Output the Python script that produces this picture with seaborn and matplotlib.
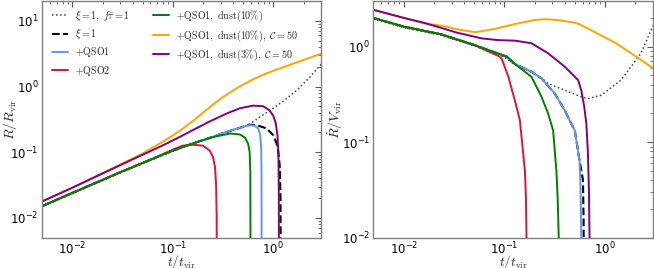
import matplotlib
matplotlib.use("Agg")
import matplotlib.pyplot as plt
import seaborn as sns

# ---- left panel: R / R_vir ----
t_dot = [0.005, 0.01, 0.0316, 0.063, 0.1, 0.158, 0.251, 0.398, 0.585, 0.794, 1.0, 1.26, 1.70, 2.24, 3.0]
r_dot = [0.0148, 0.0234, 0.050, 0.0776, 0.1035, 0.135, 0.174, 0.219, 0.269, 0.372, 0.468, 0.603, 0.871, 1.32, 2.2]

t_dash = [0.005, 0.01, 0.0316, 0.063, 0.1, 0.158, 0.251, 0.398, 0.585, 0.68, 0.855, 1.0, 1.077, 1.117, 1.161, 1.180, 1.186]
r_dash = [0.0151, 0.024, 0.0513, 0.0794, 0.106, 0.136, 0.172, 0.219, 0.262, 0.259, 0.231, 0.182, 0.137, 0.108, 0.060, 0.02, 0.001]

t_qso1 = [0.005, 0.01, 0.0316, 0.063, 0.1, 0.158, 0.251, 0.316, 0.447, 0.585, 0.661, 0.708, 0.741, 0.759, 0.764, 0.766]
r_qso1 = [0.0151, 0.024, 0.0513, 0.0794, 0.106, 0.136, 0.172, 0.197, 0.232, 0.259, 0.251, 0.229, 0.182, 0.112, 0.040, 0.001]

t_qso2 = [0.005, 0.01, 0.0316, 0.063, 0.1, 0.126, 0.158, 0.20, 0.234, 0.251, 0.263, 0.270, 0.2735, 0.274]
r_qso2 = [0.0151, 0.024, 0.0513, 0.0794, 0.1096, 0.126, 0.130, 0.126, 0.105, 0.085, 0.060, 0.0316, 0.01, 0.001]

t_d10 = [0.005, 0.01, 0.0316, 0.063, 0.1, 0.158, 0.251, 0.372, 0.468, 0.525, 0.562, 0.582, 0.591, 0.594]
r_d10 = [0.0151, 0.024, 0.0513, 0.0794, 0.106, 0.136, 0.170, 0.193, 0.186, 0.166, 0.135, 0.10, 0.05, 0.001]

t_d10c = [0.005, 0.01, 0.0316, 0.050, 0.0631, 0.0794, 0.1, 0.1259, 0.1585, 0.1995, 0.2512, 0.3162,
          0.3981, 0.5012, 0.631, 0.794, 1.0, 1.585, 3.0]
r_d10c = [0.0178, 0.0288, 0.0676, 0.0955, 0.1175, 0.1445, 0.180, 0.229, 0.2985, 0.398, 0.531, 0.692,
          0.871, 1.072, 1.288, 1.514, 1.738, 2.239, 3.16]

t_d3c = [0.005, 0.01, 0.0316, 0.0748, 0.1096, 0.160, 0.234, 0.344, 0.468, 0.631, 0.794, 0.912, 1.0, 1.059, 1.102, 1.125, 1.135, 1.138]
r_d3c = [0.0178, 0.0288, 0.066, 0.1216, 0.162, 0.219, 0.295, 0.389, 0.468, 0.513, 0.501, 0.437, 0.36, 0.275, 0.178, 0.089, 0.025, 0.001]

# ---- right panel: Rdot / V_vir ----
tv_dot = [0.005, 0.01, 0.0233, 0.05, 0.1, 0.127, 0.186, 0.234, 0.272, 0.398, 0.581, 0.676, 0.916, 1.445, 2.275, 3.0]
v_dot = [1.95, 1.585, 1.318, 1.023, 0.776, 0.646, 0.543, 0.468, 0.411, 0.350, 0.298, 0.286, 0.310, 0.447, 0.851, 1.66]

tv_dash = [0.005, 0.01, 0.0233, 0.05, 0.106, 0.127, 0.186, 0.234, 0.316, 0.398, 0.462, 0.501, 0.558, 0.604, 0.613, 0.615]
v_dash = [1.995, 1.62, 1.349, 1.042, 0.785, 0.66, 0.546, 0.465, 0.324, 0.216, 0.156, 0.133, 0.0646, 0.040, 0.015, 0.001]

tv_qso1 = [0.005, 0.01, 0.0233, 0.05, 0.106, 0.127, 0.186, 0.234, 0.316, 0.398, 0.462, 0.501, 0.558, 0.571, 0.581, 0.582]
v_qso1 = [1.995, 1.62, 1.349, 1.042, 0.785, 0.66, 0.546, 0.465, 0.324, 0.216, 0.156, 0.133, 0.0646, 0.0339, 0.01, 0.001]

tv_qso2 = [0.005, 0.01, 0.0233, 0.05, 0.0871, 0.094, 0.1096, 0.127, 0.1426, 0.160, 0.164, 0.166, 0.1663]
v_qso2 = [1.995, 1.62, 1.349, 1.042, 0.80, 0.75, 0.483, 0.275, 0.170, 0.050, 0.025, 0.01, 0.001]

tv_d10 = [0.005, 0.01, 0.0233, 0.05, 0.106, 0.127, 0.186, 0.234, 0.272, 0.305, 0.329, 0.339, 0.347, 0.3475]
v_d10 = [1.995, 1.62, 1.349, 1.042, 0.785, 0.66, 0.483, 0.298, 0.20, 0.133, 0.050, 0.025, 0.01, 0.001]

tv_d10c = [0.005, 0.01, 0.0158, 0.0251, 0.0339, 0.0513, 0.0794, 0.126, 0.2, 0.251, 0.342, 0.501, 0.562, 1.24, 1.95, 3.0]
v_d10c = [2.43, 2.0, 1.76, 1.64, 1.52, 1.416, 1.53, 1.72, 1.90, 1.94, 1.90, 1.78, 1.71, 1.11, 0.813, 0.593]

tv_d3c = [0.005, 0.01, 0.0158, 0.0251, 0.0339, 0.0597, 0.0871, 0.127, 0.186, 0.272, 0.398, 0.540, 0.581, 0.620, 0.652, 0.676, 0.692, 0.702, 0.703]
v_d3c = [2.43, 2.0, 1.78, 1.54, 1.40, 1.22, 1.17, 1.156, 1.086, 0.851, 0.617, 0.447, 0.350, 0.24, 0.158, 0.079, 0.0316, 0.01, 0.001]

labels = [r'$\xi = 1,\ f\bar{\tau} = 1$', r'$\xi = 1$', r'$+\mathrm{QSO1}$', r'$+\mathrm{QSO2}$',
          r'$+\mathrm{QSO1,\ dust(10\%)}$', r'$+\mathrm{QSO1,\ dust(10\%)},\ \mathcal{C} = 50$',
          r'$+\mathrm{QSO1,\ dust(3\%)},\ \mathcal{C} = 50$']
colors = ['0.25', 'k', 'cornflowerblue', 'crimson', 'green', 'orange', 'purple']
styles = [':', '--', '-', '-', '-', '-', '-']
widths = [1.1, 1.5, 1.4, 1.4, 1.4, 1.4, 1.4]

left = [(t_dot, r_dot), (t_dash, r_dash), (t_qso1, r_qso1), (t_qso2, r_qso2),
        (t_d10, r_d10), (t_d10c, r_d10c), (t_d3c, r_d3c)]
right = [(tv_dot, v_dot), (tv_dash, v_dash), (tv_qso1, v_qso1), (tv_qso2, v_qso2),
         (tv_d10, v_d10), (tv_d10c, v_d10c), (tv_d3c, v_d3c)]

sns.set_style("white")
plt.rcParams['mathtext.fontset'] = 'cm'

fig = plt.figure(figsize=(6.54, 2.68), dpi=100)
ax1 = fig.add_axes([0.0642, 0.113, 0.427, 0.883])
ax2 = fig.add_axes([0.571, 0.113, 0.4275, 0.883])

for ax, curves in [(ax1, left), (ax2, right)]:
    for (x, y), lab, c, ls, lw in zip(curves, labels, colors, styles, widths):
        sns.lineplot(x=x, y=y, ax=ax, color=c, linestyle=ls, linewidth=lw,
                     label=lab, estimator=None, sort=False, legend=False)
    ax.set_xscale('log')
    ax.set_yscale('log')
    ax.set_xlim(0.005, 3)
    ax.set_xlabel(r'$t/t_{\rm vir}$', fontsize=9.5)
    ax.xaxis.set_label_coords(0.5, -0.066)
    ax.tick_params(which='both', direction='in', top=True, right=True, colors='0.35',
                   labelcolor='k', labelsize=8.5, pad=2.5)
    ax.tick_params(which='major', length=4, width=0.8)
    ax.tick_params(which='minor', length=2, width=0.6)
    for s in ax.spines.values():
        s.set_color('0.5')
        s.set_linewidth(1.0)

ax1.set_ylim(0.005, 20)
ax2.set_ylim(0.01, 3)
ax1.set_ylabel(r'$R/R_{\rm vir}$', fontsize=10)
ax2.set_ylabel(r'$\dot{R}/V_{\rm vir}$', fontsize=10)
ax1.yaxis.set_label_coords(-0.083, 0.5)
ax2.yaxis.set_label_coords(-0.10, 0.5)

handles, labs = ax1.get_legend_handles_labels()
ax1.legend(handles, labs, ncol=2, loc='upper left', frameon=False, fontsize=7.2,
           handlelength=1.6, handletextpad=0.7, columnspacing=2.3, labelspacing=0.42,
           borderaxespad=0, bbox_to_anchor=(0.0225, 0.985))

fig.savefig('out.png', dpi=100)
